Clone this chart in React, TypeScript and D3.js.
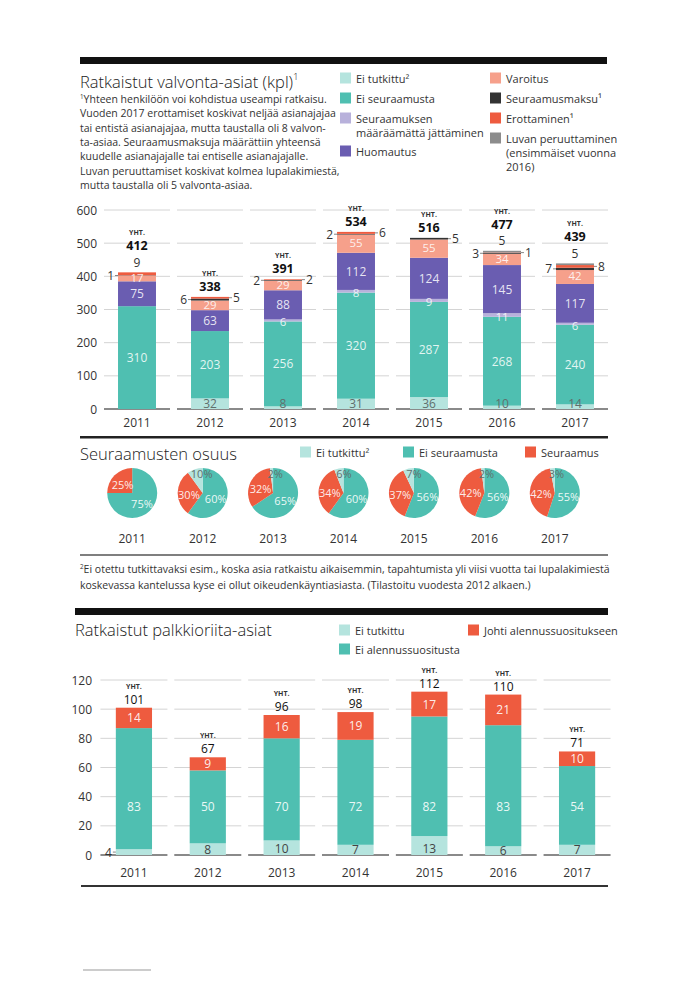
import * as d3 from "d3";

// --- data ---
const years = ["2011", "2012", "2013", "2014", "2015", "2016", "2017"];

// Ratkaistut valvonta-asiat
const eiTutkittu = [0, 32, 8, 31, 36, 10, 14];
const eiSeuraamusta = [310, 203, 256, 320, 287, 268, 240];
const maaraamatta = [0, 0, 6, 8, 9, 11, 6];
const huomautus = [75, 63, 88, 112, 124, 145, 117];
const varoitus = [17, 29, 29, 55, 55, 34, 42];
const seuraamusmaksu = [1, 6, 2, 2, 5, 3, 7];
const erottaminen = [9, 5, 2, 6, 0, 1, 8];
const luvanPeruuttaminen = [0, 0, 0, 0, 0, 5, 5];
const totals = [412, 338, 391, 534, 516, 477, 439];
const topTicks = [0, 100, 200, 300, 400, 500, 600];

// Seuraamusten osuus (%)
const shareEiTutkittu = [0, 10, 2, 6, 7, 2, 3];
const shareEiSeuraamusta = [75, 60, 65, 60, 56, 56, 55];
const shareSeuraamus = [25, 30, 32, 34, 37, 42, 42];

// Ratkaistut palkkioriita-asiat
const feeEiTutkittu = [4, 8, 10, 7, 13, 6, 7];
const feeEiAlennus = [83, 50, 70, 72, 82, 83, 54];
const feeAlennus = [14, 9, 16, 19, 17, 21, 10];
const feeTotals = [101, 67, 96, 98, 112, 110, 71];
const feeTicks = [0, 20, 40, 60, 80, 100, 120];

// --- styles ---
const FONT = "'Open Sans', 'Noto Sans', sans-serif";
const C = {
  eiTutkittu: "#b5e4de",
  eiSeuraamusta: "#4fbfb1",
  maaraamatta: "#b8b1db",
  huomautus: "#6a5db1",
  varoitus: "#f6a08b",
  maksu: "#333333",
  erottaminen: "#ee5b3f",
  luvan: "#8c8c8c",
  grid: "#d4d4d4",
  axis: "#8a8a8a",
  text: "#333",
};

const series = [
  { key: "eiTutkittu", values: eiTutkittu, color: C.eiTutkittu },
  { key: "eiSeuraamusta", values: eiSeuraamusta, color: C.eiSeuraamusta },
  { key: "maaraamatta", values: maaraamatta, color: C.maaraamatta },
  { key: "huomautus", values: huomautus, color: C.huomautus },
  { key: "varoitus", values: varoitus, color: C.varoitus },
  { key: "maksu", values: seuraamusmaksu, color: C.maksu },
  { key: "erottaminen", values: erottaminen, color: C.erottaminen },
  { key: "luvan", values: luvanPeruuttaminen, color: C.luvan },
];

// where the small top segments get their labels
const smallLabelSide: Record<string, string>[] = [
  { maksu: "left", erottaminen: "top" },
  { maksu: "left", erottaminen: "right" },
  { maksu: "left", erottaminen: "right" },
  { maksu: "left", erottaminen: "right" },
  { maksu: "right" },
  { maksu: "left", erottaminen: "right", luvan: "top" },
  { maksu: "left", erottaminen: "right", luvan: "top" },
];

const LegendItem = ({ x, y, color, lines }: { x: number; y: number; color: string; lines: string[] }) => (
  <g>
    <rect x={x} y={y - 5.5} width={11} height={11} fill={color} />
    {lines.map((l, i) => (
      <text key={i} x={x + 16} y={y + i * 14} dominantBaseline="central" fontSize={11} fill={C.text}>
        {l}
      </text>
    ))}
  </g>
);

const Sup = ({ children }: { children: string }) => (
  <tspan fontSize="0.6em" dy="-0.5em">{children}</tspan>
);

const TopChart = () => {
  const x = d3.scaleBand().domain(years).range([100.5, 611.5]).paddingInner(0.48).paddingOuter(0.24);
  const y = d3.scaleLinear().domain([0, 600]).range([409, 210]);
  const half = 33;
  const bw = x.bandwidth();

  const rows = years.map((yr, i) => {
    const row: Record<string, number | string> = { year: yr };
    series.forEach((s) => (row[s.key] = s.values[i]));
    return row;
  });
  const stack = d3.stack<Record<string, number | string>>().keys(series.map((s) => s.key))(rows as any);

  return (
    <g>
      {/* grid */}
      {topTicks.map((t) =>
        years.map((yr) => {
          const cx = (x(yr) || 0) + bw / 2;
          return (
            <line
              key={`g${t}-${yr}`}
              x1={cx - half}
              x2={cx + half}
              y1={y(t)}
              y2={y(t)}
              stroke={t === 0 ? C.axis : C.grid}
              strokeWidth={t === 0 ? 2 : 1}
            />
          );
        })
      )}
      {topTicks.map((t) => (
        <text key={t} x={97} y={y(t)} textAnchor="end" dominantBaseline="central" fontSize={12} fill={C.text}>
          {t}
        </text>
      ))}
      {/* bars */}
      {stack.map((layer, li) =>
        layer.map((d, i) => {
          const v = d[1] - d[0];
          if (v <= 0) return null;
          return (
            <rect
              key={`${li}-${i}`}
              x={x(years[i])}
              y={y(d[1])}
              width={bw}
              height={y(d[0]) - y(d[1])}
              fill={series[li].color}
            />
          );
        })
      )}
      {/* inner labels */}
      {stack.map((layer, li) =>
        layer.map((d, i) => {
          const key = series[li].key;
          const v = d[1] - d[0];
          if (v <= 0) return null;
          const cx = (x(years[i]) || 0) + bw / 2;
          const mid = (y(d[0]) + y(d[1])) / 2;
          if (key === "eiTutkittu") {
            return (
              <text key={`l${li}-${i}`} x={cx} y={Math.min(mid, 403.5)} textAnchor="middle" dominantBaseline="central" fontSize={12} fill="#5f6f6d">
                {v}
              </text>
            );
          }
          if (["eiSeuraamusta", "maaraamatta", "huomautus", "varoitus"].includes(key)) {
            const shift = key === "varoitus" ? -1 : key === "huomautus" ? 0 : key === "maaraamatta" ? 1.5 : 0;
            const small = key === "varoitus" || key === "maaraamatta";
            return (
              <text
                key={`l${li}-${i}`}
                x={cx}
                y={mid + shift}
                textAnchor="middle"
                dominantBaseline="central"
                fontSize={small ? 11.5 : 12}
                fill="#fff"
                fillOpacity={0.85}
              >
                {v}
              </text>
            );
          }
          const side = smallLabelSide[i][key];
          if (!side) return null;
          if (side === "top") {
            return (
              <text key={`l${li}-${i}`} x={cx} y={y(totals[i]) - 10} textAnchor="middle" dominantBaseline="central" fontSize={12} fill={C.text}>
                {v}
              </text>
            );
          }
          const left = side === "left";
          const bx = left ? (x(years[i]) || 0) : (x(years[i]) || 0) + bw;
          return (
            <g key={`l${li}-${i}`}>
              <line x1={bx} x2={left ? bx - 3 : bx + 3} y1={mid} y2={mid} stroke="#666" strokeWidth={0.8} />
              <text x={left ? bx - 4 : bx + 4} y={mid} textAnchor={left ? "end" : "start"} dominantBaseline="central" fontSize={12} fill={C.text}>
                {v}
              </text>
            </g>
          );
        })
      )}
      {/* totals */}
      {years.map((yr, i) => {
        const cx = (x(yr) || 0) + bw / 2;
        const hasTop = Object.values(smallLabelSide[i]).includes("top");
        const base = y(totals[i]) - (hasTop ? 22 : 6);
        return (
          <g key={`t${yr}`}>
            <text x={cx} y={base - 15} textAnchor="middle" fontSize={7} fontWeight={700} fill={C.text}>
              YHT.
            </text>
            <text x={cx} y={base} textAnchor="middle" fontSize={12.5} fontWeight={700} fill="#111">
              {totals[i]}
            </text>
          </g>
        );
      })}
      {years.map((yr) => (
        <text key={`x${yr}`} x={(x(yr) || 0) + bw / 2} y={422} textAnchor="middle" dominantBaseline="central" fontSize={12} fill={C.text}>
          {yr}
        </text>
      ))}
    </g>
  );
};

const Pies = () => {
  const x = d3.scaleBand().domain(years).range([97, 590]);
  const r = 25;
  const cy = 493;
  const pie = d3.pie<{ v: number; c: string; k: string }>().sort(null).value((d) => d.v);
  const arc = d3.arc<d3.PieArcDatum<{ v: number; c: string; k: string }>>().innerRadius(0).outerRadius(r);
  const labelArc = d3.arc<d3.PieArcDatum<{ v: number; c: string; k: string }>>().innerRadius(r * 0.55).outerRadius(r * 0.55);
  return (
    <g>
      {years.map((yr, i) => {
        const cx = (x(yr) || 0) + x.bandwidth() / 2;
        const arcs = pie([
          { v: shareEiSeuraamusta[i], c: C.eiSeuraamusta, k: "es" },
          { v: shareSeuraamus[i], c: C.erottaminen, k: "s" },
          { v: shareEiTutkittu[i], c: C.eiTutkittu, k: "et" },
        ]);
        return (
          <g key={yr} transform={`translate(${cx},${cy})`}>
            {arcs.map((a) => (a.data.v > 0 ? <path key={a.data.k} d={arc(a) || ""} fill={a.data.c} /> : null))}
            {arcs.map((a) => {
              if (a.data.v <= 0) return null;
              if (a.data.k === "et") {
                const [lx] = labelArc.centroid(a);
                return (
                  <text key={`l${a.data.k}`} x={Math.max(lx, -4) + 3} y={-r * 0.78} textAnchor="middle" dominantBaseline="central" fontSize={11} fill="#5f6f6d">
                    {a.data.v}%
                  </text>
                );
              }
              const [lx, ly] = labelArc.centroid(a);
              return (
                <text key={`l${a.data.k}`} x={lx} y={ly + 1} textAnchor="middle" dominantBaseline="central" fontSize={11} fill="#fff" fillOpacity={0.9}>
                  {a.data.v}%
                </text>
              );
            })}
            <text y={45} textAnchor="middle" dominantBaseline="central" fontSize={12} fill={C.text}>
              {yr}
            </text>
          </g>
        );
      })}
    </g>
  );
};

const FeeChart = () => {
  const x = d3.scaleBand().domain(years).range([97, 614]).paddingInner(0.51).paddingOuter(0.255);
  const y = d3.scaleLinear().domain([0, 120]).range([855, 680]);
  const bw = x.bandwidth();
  const half = 33.5;
  const feeSeries = [
    { key: "eiTutkittu", values: feeEiTutkittu, color: C.eiTutkittu },
    { key: "eiAlennus", values: feeEiAlennus, color: C.eiSeuraamusta },
    { key: "alennus", values: feeAlennus, color: C.erottaminen },
  ];
  const rows = years.map((yr, i) => {
    const row: Record<string, number | string> = { year: yr };
    feeSeries.forEach((s) => (row[s.key] = s.values[i]));
    return row;
  });
  const stack = d3.stack<Record<string, number | string>>().keys(feeSeries.map((s) => s.key))(rows as any);
  return (
    <g>
      {feeTicks.map((t) =>
        years.map((yr) => {
          const cx = (x(yr) || 0) + bw / 2;
          return (
            <line
              key={`g${t}-${yr}`}
              x1={cx - half}
              x2={cx + half}
              y1={y(t)}
              y2={y(t)}
              stroke={t === 0 ? C.axis : C.grid}
              strokeWidth={t === 0 ? 2 : 1}
            />
          );
        })
      )}
      {feeTicks.map((t) => (
        <text key={t} x={92} y={y(t)} textAnchor="end" dominantBaseline="central" fontSize={12} fill={C.text}>
          {t}
        </text>
      ))}
      {stack.map((layer, li) =>
        layer.map((d, i) => (
          <rect key={`${li}-${i}`} x={x(years[i])} y={y(d[1])} width={bw} height={y(d[0]) - y(d[1])} fill={feeSeries[li].color} />
        ))
      )}
      {stack.map((layer, li) =>
        layer.map((d, i) => {
          const v = d[1] - d[0];
          const cx = (x(years[i]) || 0) + bw / 2;
          const mid = (y(d[0]) + y(d[1])) / 2;
          if (li === 0) {
            if (v < 6) {
              const bx = x(years[i]) || 0;
              return (
                <g key={`l${li}-${i}`}>
                  <line x1={bx} x2={bx - 3} y1={mid} y2={mid} stroke="#666" strokeWidth={0.8} />
                  <text x={bx - 4} y={mid} textAnchor="end" dominantBaseline="central" fontSize={12} fill={C.text}>
                    {v}
                  </text>
                </g>
              );
            }
            return (
              <text key={`l${li}-${i}`} x={cx} y={Math.max(mid, 848)} textAnchor="middle" dominantBaseline="central" fontSize={12} fill="#444">
                {v}
              </text>
            );
          }
          return (
            <text key={`l${li}-${i}`} x={cx} y={li === 1 ? y(33) : mid} textAnchor="middle" dominantBaseline="central" fontSize={12} fill="#fff" fillOpacity={0.9}>
              {v}
            </text>
          );
        })
      )}
      {years.map((yr, i) => {
        const cx = (x(yr) || 0) + bw / 2;
        const base = y(feeTotals[i]) - 4;
        return (
          <g key={`t${yr}`}>
            <text x={cx} y={base - 15} textAnchor="middle" fontSize={7} fontWeight={700} fill={C.text}>
              YHT.
            </text>
            <text x={cx} y={base} textAnchor="middle" fontSize={12} fill="#111">
              {feeTotals[i]}
            </text>
          </g>
        );
      })}
      {years.map((yr) => (
        <text key={`x${yr}`} x={(x(yr) || 0) + bw / 2} y={872} textAnchor="middle" dominantBaseline="central" fontSize={12} fill={C.text}>
          {yr}
        </text>
      ))}
    </g>
  );
};

export default function App() {
  const note1 = [
    "Yhteen henkilöön voi kohdistua useampi ratkaisu.",
    "Vuoden 2017 erottamiset koskivat neljää asianajajaa",
    "tai entistä asianajajaa, mutta taustalla oli 8 valvon-",
    "ta-asiaa. Seuraamusmaksuja määrättiin yhteensä",
    "kuudelle asianajajalle tai entiselle asianajajalle.",
    "Luvan peruuttamiset koskivat kolmea lupalakimiestä,",
    "mutta taustalla oli 5 valvonta-asiaa.",
  ];
  return (
    <svg
      width={679}
      height={985}
      viewBox="0 0 679 985"
      style={{ position: "absolute", left: 0, top: 0, background: "#fff", fontFamily: FONT }}
    >
      {/* section 1 header */}
      <rect x={80} y={57} width={527} height={7} fill="#111" />
      <text x={80} y={81} dominantBaseline="central" fontSize={16.5} fontWeight={300} fill="#222">
        Ratkaistut valvonta-asiat (kpl)<Sup>1</Sup>
      </text>
      {note1.map((l, i) => (
        <text key={i} x={80} y={99 + i * 14.3} dominantBaseline="central" fontSize={10.5} fill={C.text}>
          {i === 0 ? <Sup>1</Sup> : null}
          {i === 0 ? <tspan dy="0.3em">{l}</tspan> : l}
        </text>
      ))}
      <LegendItem x={340} y={78} color={C.eiTutkittu} lines={["Ei tutkittu²"]} />
      <LegendItem x={340} y={98} color={C.eiSeuraamusta} lines={["Ei seuraamusta"]} />
      <LegendItem x={340} y={118} color={C.maaraamatta} lines={["Seuraamuksen", "määräämättä jättäminen"]} />
      <LegendItem x={340} y={151} color={C.huomautus} lines={["Huomautus"]} />
      <LegendItem x={490} y={78} color={C.varoitus} lines={["Varoitus"]} />
      <LegendItem x={490} y={98} color={C.maksu} lines={["Seuraamusmaksu¹"]} />
      <LegendItem x={490} y={118} color={C.erottaminen} lines={["Erottaminen¹"]} />
      <LegendItem x={490} y={138} color={C.luvan} lines={["Luvan peruuttaminen", "(ensimmäiset vuonna", "2016)"]} />

      <TopChart />

      {/* section 2 */}
      <rect x={80} y={436} width={528} height={2.5} fill="#222" />
      <text x={80} y={453} dominantBaseline="central" fontSize={16.5} fontWeight={300} fill="#222">
        Seuraamusten osuus
      </text>
      <LegendItem x={300} y={452} color={C.eiTutkittu} lines={["Ei tutkittu²"]} />
      <LegendItem x={403} y={452} color={C.eiSeuraamusta} lines={["Ei seuraamusta"]} />
      <LegendItem x={525} y={452} color={C.erottaminen} lines={["Seuraamus"]} />
      <Pies />
      <line x1={80} x2={608} y1={555} y2={555} stroke="#555" strokeWidth={1.5} />
      <text x={80} y={569} dominantBaseline="central" fontSize={10.5} fill={C.text}>
        <Sup>2</Sup>
        <tspan dy="0.3em">Ei otettu tutkittavaksi esim., koska asia ratkaistu aikaisemmin, tapahtumista yli viisi vuotta tai lupalakimiestä</tspan>
      </text>
      <text x={80} y={585} dominantBaseline="central" fontSize={10.5} fill={C.text}>
        koskevassa kantelussa kyse ei ollut oikeudenkäyntiasiasta. (Tilastoitu vuodesta 2012 alkaen.)
      </text>

      {/* section 3 */}
      <rect x={75} y={608} width={533} height={7} fill="#111" />
      <text x={75} y={629} dominantBaseline="central" fontSize={16.5} fontWeight={300} fill="#222">
        Ratkaistut palkkioriita-asiat
      </text>
      <LegendItem x={339} y={630} color={C.eiTutkittu} lines={["Ei tutkittu"]} />
      <LegendItem x={339} y={649} color={C.eiSeuraamusta} lines={["Ei alennussuositusta"]} />
      <LegendItem x={468} y={630} color={C.erottaminen} lines={["Johti alennussuositukseen"]} />
      <FeeChart />
      <line x1={81} x2={608} y1={886} y2={886} stroke="#333" strokeWidth={2} />
      <line x1={83} x2={151} y1={970} y2={970} stroke="#999" strokeWidth={1} />
    </svg>
  );
}
